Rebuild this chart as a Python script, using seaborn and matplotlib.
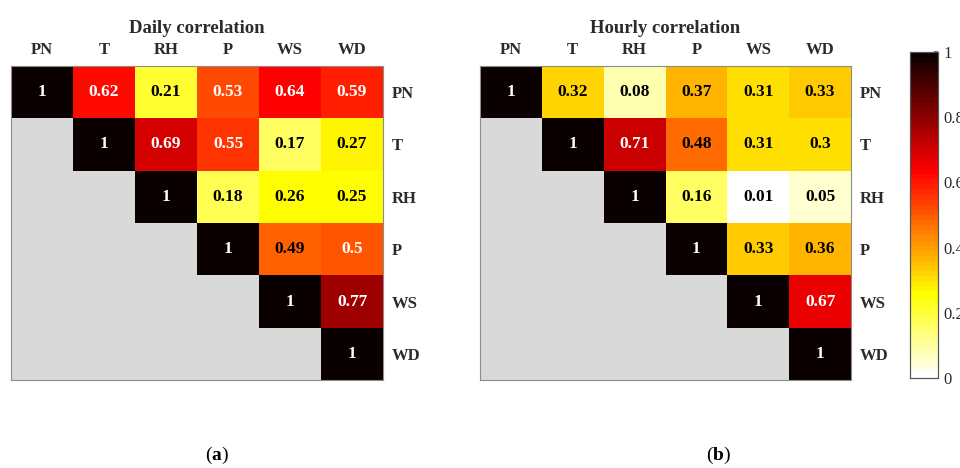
import numpy as np
import pandas as pd
import matplotlib
matplotlib.use("Agg")
import matplotlib.pyplot as plt
import seaborn as sns
from matplotlib.colors import ListedColormap

variables = ["PN", "T", "RH", "P", "WS", "WD"]

# Upper-triangle rows (diagonal first) of each correlation matrix
daily_rows = [
    [1, 0.62, 0.21, 0.53, 0.64, 0.59],
    [1, 0.69, 0.55, 0.17, 0.27],
    [1, 0.18, 0.26, 0.25],
    [1, 0.49, 0.5],
    [1, 0.77],
    [1],
]
hourly_rows = [
    [1, 0.32, 0.08, 0.37, 0.31, 0.33],
    [1, 0.71, 0.48, 0.31, 0.3],
    [1, 0.16, 0.01, 0.05],
    [1, 0.33, 0.36],
    [1, 0.67],
    [1],
]
titles = ["Daily correlation", "Hourly correlation"]
panel_tags = ["a", "b"]
cbar_ticks = [0, 0.2, 0.4, 0.6, 0.8, 1]


def to_frame(rows):
    n = len(variables)
    m = np.full((n, n), np.nan)
    for i, r in enumerate(rows):
        m[i, i:] = r
    return pd.DataFrame(m, index=variables, columns=variables)


sns.set_theme(style="white")
plt.rcParams["font.family"] = ["Liberation Serif", "DejaVu Serif"]
plt.rcParams["mathtext.fontset"] = "custom"
plt.rcParams["mathtext.rm"] = "Liberation Serif"
plt.rcParams["mathtext.bf"] = "Liberation Serif:bold"

cmap = ListedColormap(plt.get_cmap("hot_r")(np.linspace(0, 1, 64)))
label_color = "#2b2b2b"
grey = "#d9d9d9"

fig = plt.figure(figsize=(9.6, 4.68), dpi=100)
ax_a = fig.add_axes([0.0115, 0.188, 0.3875, 0.671])
ax_b = fig.add_axes([0.5, 0.188, 0.3865, 0.671])
cax = fig.add_axes([0.948, 0.192, 0.029, 0.697])
tag_x = [0.226, 0.748]

for k, (ax, rows) in enumerate(zip([ax_a, ax_b], [daily_rows, hourly_rows])):
    df = to_frame(rows)
    ax.set_facecolor(grey)
    sns.heatmap(
        df, ax=ax, cmap=cmap, vmin=0, vmax=1, mask=df.isna(),
        annot=True, fmt="g", cbar=(k == 1), cbar_ax=cax if k == 1 else None,
        annot_kws={"fontsize": 12.5, "fontweight": "bold"},
        square=False, linewidths=0,
    )
    # annotation colour: white on dark cells, black on light ones
    vals = [v for r in rows for v in r]
    for t, v in zip(ax.texts, vals):
        t.set_color("white" if v >= 0.5 else "black")
    ax.xaxis.tick_top()
    ax.yaxis.tick_right()
    ax.tick_params(length=0, pad=6)
    ax.set_xticklabels(variables, rotation=0, fontsize=12, fontweight="bold",
                       color=label_color)
    ax.set_yticklabels(variables, rotation=0, fontsize=12, fontweight="bold",
                       color=label_color)
    ax.set_xlabel("")
    ax.set_ylabel("")
    ax.set_title(titles[k], fontsize=13.5, fontweight="bold", color=label_color,
                 pad=24)
    for s in ax.spines.values():
        s.set_visible(True)
        s.set_color("#8c8c8c")
        s.set_linewidth(0.8)
    fig.text(tag_x[k], 0.004, rf"($\mathbf{{{panel_tags[k]}}}$)", fontsize=14,
             ha="center", va="bottom", color="black")

cax.set_yticks(cbar_ticks)
cax.set_yticklabels([f"{t:g}" for t in cbar_ticks], fontsize=12,
                    color=label_color)
cax.tick_params(length=3, direction="in", pad=4, color="#555555")
for s in cax.spines.values():
    s.set_visible(True)
    s.set_color("#555555")
    s.set_linewidth(0.8)

fig.savefig("out.png", dpi=100)
